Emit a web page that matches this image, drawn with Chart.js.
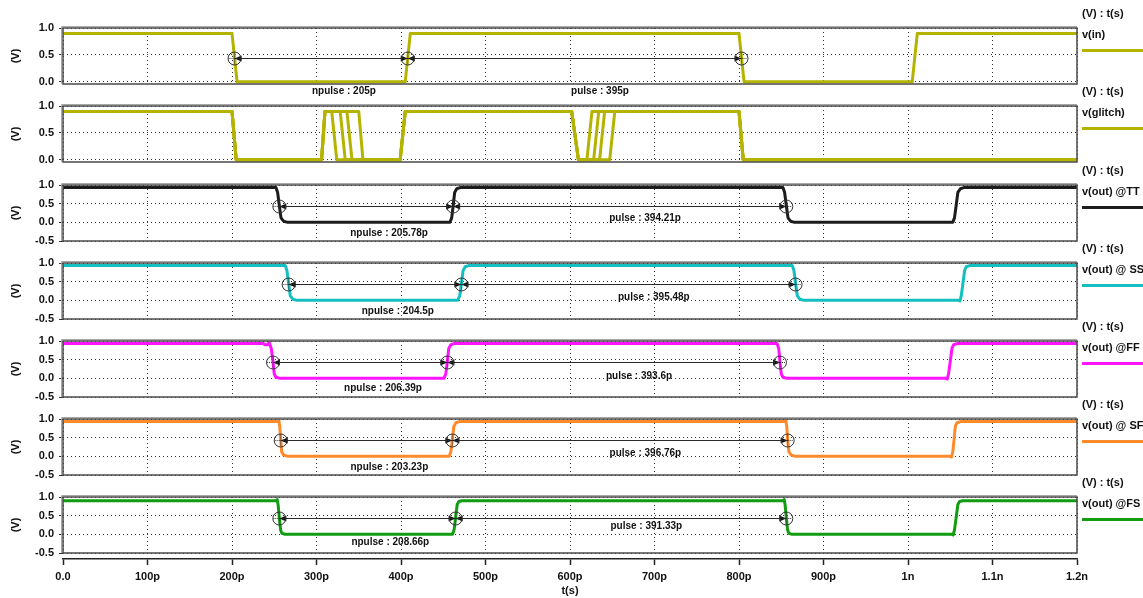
<!DOCTYPE html>
<html>
<head>
<meta charset="utf-8">
<script src="https://cdn.jsdelivr.net/npm/chart.js@4.4.1/dist/chart.umd.min.js"></script>
<style>
  html, body { margin: 0; padding: 0; background: #fff; overflow: hidden; }
  #wrap { position: relative; width: 1143px; height: 598px; }
  #wrap canvas { position: absolute; left: 0; }
  .lg { position: absolute; left: 1082px; font: bold 11px "Liberation Sans", Arial, sans-serif; color: #111; line-height: 13px; white-space: nowrap; }
  .sw { position: absolute; left: 1082px; width: 61px; height: 3px; }
</style>
</head>
<body>
<div id="wrap"></div>
<script>
// ---- time axis (ps) ----
const timeTicks = [0, 100, 200, 300, 400, 500, 600, 700, 800, 900, 1000, 1100, 1200];
const timeTickLabels = ['0.0', '100p', '200p', '300p', '400p', '500p', '600p', '700p', '800p', '900p', '1n', '1.1n', '1.2n'];

// ---- voltage ticks ----
const voltTicksIn = [0, 0.5, 1.0];
const voltTicksOut = [-0.5, 0, 0.5, 1.0];

// ---- v(in) ----
const vinT = [0, 200, 206, 405, 411, 800, 806, 1005, 1011, 1200];
const vinV = [0.9, 0.9, 0, 0, 0.9, 0.9, 0, 0, 0.9, 0.9];

// ---- v(glitch), four sweep traces ----
const glitch1T = [0, 200, 205, 306, 310, 318, 324, 399, 405, 602, 610, 620, 626, 800, 805, 1200];
const glitch1V = [0.9, 0.9, 0, 0, 0.9, 0.9, 0, 0, 0.9, 0.9, 0, 0, 0.9, 0.9, 0, 0];
const glitch2T = [0, 200, 205, 306, 310, 328, 334, 399, 405, 602, 610, 628, 634, 800, 805, 1200];
const glitch2V = [0.9, 0.9, 0, 0, 0.9, 0.9, 0, 0, 0.9, 0.9, 0, 0, 0.9, 0.9, 0, 0];
const glitch3T = [0, 200, 205, 306, 310, 336, 342, 399, 405, 602, 610, 635, 641, 800, 805, 1200];
const glitch3V = [0.9, 0.9, 0, 0, 0.9, 0.9, 0, 0, 0.9, 0.9, 0, 0, 0.9, 0.9, 0, 0];
const glitch4T = [0, 200, 205, 306, 310, 350, 355, 399, 405, 602, 610, 647, 653, 800, 805, 1200];
const glitch4V = [0.9, 0.9, 0, 0, 0.9, 0.9, 0, 0, 0.9, 0.9, 0, 0, 0.9, 0.9, 0, 0];

// ---- v(out) per corner ----
const ttT = [0, 252, 254, 256, 258, 261, 266, 458, 460, 461.78, 463.5, 466, 470, 852, 854, 855.99, 858, 861, 866, 1053, 1055, 1057, 1059, 1062, 1066, 1200];
const ttV = [0.93, 0.93, 0.8, 0.45, 0.12, 0.03, 0, 0, 0.12, 0.45, 0.8, 0.9, 0.93, 0.93, 0.8, 0.45, 0.12, 0.03, 0, 0, 0.12, 0.45, 0.8, 0.9, 0.93, 0.93];

const ssT = [0, 263, 265, 267, 269, 272, 277, 467, 469.5, 471.5, 473.5, 476, 480, 863, 865, 866.98, 869, 872, 877, 1060, 1061.5, 1063, 1065, 1067, 1069, 1073, 1200];
const ssV = [0.93, 0.93, 0.8, 0.45, 0.12, 0.03, 0, 0, 0.12, 0.45, 0.8, 0.9, 0.93, 0.93, 0.8, 0.45, 0.12, 0.03, 0, 0, -0.02, 0.12, 0.45, 0.8, 0.9, 0.93, 0.93];

const ffT = [0, 237, 239, 242, 244, 246.5, 248.5, 250, 252, 257, 451, 453, 454.89, 456.5, 459, 463, 845, 847, 848.49, 850, 852, 857, 1045, 1046.5, 1048, 1050, 1052, 1054, 1058, 1200];
const ffV = [0.93, 0.93, 0.9, 0.9, 0.96, 0.8, 0.45, 0.12, 0.03, 0, 0, 0.12, 0.45, 0.8, 0.9, 0.93, 0.93, 0.8, 0.45, 0.12, 0.03, 0, 0, -0.02, 0.12, 0.45, 0.8, 0.9, 0.93, 0.93];

const sfT = [0, 254, 255.5, 256.5, 257.6, 258.8, 261, 266, 457, 459, 460.83, 462.5, 465, 469, 854, 855.5, 856.5, 857.59, 859, 862, 867, 1050, 1051.5, 1053, 1054.5, 1056, 1058, 1062, 1200];
const sfV = [0.93, 0.93, 0.95, 0.8, 0.45, 0.12, 0.04, 0, 0, 0.12, 0.45, 0.8, 0.9, 0.93, 0.93, 0.95, 0.8, 0.45, 0.12, 0.03, 0, 0, -0.02, 0.12, 0.45, 0.8, 0.9, 0.93, 0.93];

const fsT = [0, 252, 253.5, 254.5, 256, 257.5, 259, 263, 461, 462.8, 464.66, 466.5, 468.5, 472, 852, 853.5, 854.5, 855.99, 857.5, 859, 863, 1052, 1053.5, 1055, 1057, 1059, 1061, 1065, 1200];
const fsV = [0.9, 0.9, 0.93, 0.8, 0.45, 0.12, 0.03, 0, 0, 0.12, 0.45, 0.8, 0.88, 0.9, 0.9, 0.93, 0.8, 0.45, 0.12, 0.03, 0, 0, -0.02, 0.12, 0.45, 0.8, 0.88, 0.9, 0.9];

// ---- signal names ----
const signalNames = ['v(in)', 'v(glitch)', 'v(out) @TT', 'v(out) @ SS', 'v(out) @FF', 'v(out) @ SF', 'v(out) @FS'];

// ---- pulse measurements (ps): first 50% crossing, low width, high width ----
const firstEdge = [203, null, 256, 267, 248.5, 257.6, 256];
const npulseWidth = [205, null, 205.78, 204.5, 206.39, 203.23, 208.66];
const pulseWidth = [395, null, 394.21, 395.48, 393.6, 396.76, 391.33];
const measureLevel = 0.45;

// ---- styling / layout ----
const FONT = '"Liberation Sans", Arial, Helvetica, sans-serif';
const OLIVE = '#b4b400';
const traceColors = [OLIVE, OLIVE, '#1c1c1c', '#14bfc2', '#ff14ff', '#ff8a2c', '#129c12'];
const panelTops = [28, 106, 185, 263, 341, 419, 497];
const labelLevelN = [-0.17, null, -0.29, -0.3, -0.27, -0.29, -0.21];
const labelLevelP = [-0.17, null, 0.11, 0.09, 0.06, 0.08, 0.21];
const PANEL_H = 56, PAD_T = 12, PAD_B = 14, PLOT_L = 63, PLOT_R = 1077, W = 1143;

const wrap = document.getElementById('wrap');

const panelTraces = [
  [[vinT, vinV]],
  [[glitch1T, glitch1V], [glitch2T, glitch2V], [glitch3T, glitch3V], [glitch4T, glitch4V]],
  [[ttT, ttV]],
  [[ssT, ssV]],
  [[ffT, ffV]],
  [[sfT, sfV]],
  [[fsT, fsV]]
];

// box around each plot area
const framePlugin = {
  id: 'frame',
  afterDatasetsDraw(chart) {
    const { ctx, chartArea: a } = chart;
    ctx.save();
    ctx.strokeStyle = '#a8a8a8';
    ctx.lineWidth = 1;
    ctx.beginPath();
    ctx.moveTo(a.left - 1.5, a.bottom);
    ctx.lineTo(a.left - 1.5, a.top - 1.5);
    ctx.lineTo(a.right, a.top - 1.5);
    ctx.stroke();
    ctx.strokeStyle = '#4a4a4a';
    ctx.lineWidth = 1.5;
    ctx.strokeRect(a.left, a.top, a.right - a.left, a.bottom - a.top);
    ctx.restore();
  }
};

function drawArrow(ctx, x, y, dir) {
  ctx.beginPath();
  ctx.moveTo(x, y);
  ctx.lineTo(x - dir * 7, y - 3);
  ctx.lineTo(x - dir * 7, y + 3);
  ctx.closePath();
  ctx.fill();
}

// npulse / pulse cursors drawn on the trace
function measurePlugin(i) {
  return {
    id: 'measure' + i,
    afterDatasetsDraw(chart) {
      if (firstEdge[i] == null) return;
      const { ctx } = chart;
      const xs = chart.scales.x, ys = chart.scales.y;
      const c1 = firstEdge[i];
      const c2 = c1 + npulseWidth[i];
      const c3 = c2 + pulseWidth[i];
      const px = [c1, c2, c3].map(v => xs.getPixelForValue(v));
      const py = Math.round(ys.getPixelForValue(measureLevel)) + 0.5;
      ctx.save();
      ctx.strokeStyle = '#2a2a2a';
      ctx.fillStyle = '#111';
      ctx.lineWidth = 1;
      ctx.beginPath();
      ctx.moveTo(px[0], py);
      ctx.lineTo(px[2], py);
      ctx.stroke();
      drawArrow(ctx, px[0], py, -1);
      drawArrow(ctx, px[1], py, 1);
      drawArrow(ctx, px[1], py, -1);
      drawArrow(ctx, px[2], py, 1);
      px.forEach(x => {
        ctx.setLineDash([]);
        ctx.strokeStyle = '#333';
        ctx.beginPath();
        ctx.arc(x, py, 6.5, 0, Math.PI * 2);
        ctx.stroke();
        ctx.setLineDash([1, 1]);
        ctx.beginPath();
        ctx.moveTo(x, py - 6);
        ctx.lineTo(x, py + 6);
        ctx.moveTo(x - 6, py);
        ctx.lineTo(x + 6, py);
        ctx.stroke();
      });
      ctx.setLineDash([]);
      ctx.font = 'bold 10px ' + FONT;
      ctx.fillStyle = '#111';
      ctx.textAlign = 'center';
      ctx.textBaseline = 'middle';
      ctx.fillText('npulse : ' + npulseWidth[i] + 'p', xs.getPixelForValue((c1 + c2) / 2 + 27), ys.getPixelForValue(labelLevelN[i]));
      ctx.fillText('pulse : ' + pulseWidth[i] + 'p', xs.getPixelForValue((c2 + c3) / 2 + 30), ys.getPixelForValue(labelLevelP[i]));
      ctx.restore();
    }
  };
}

function makePanel(i) {
  const canvas = document.createElement('canvas');
  canvas.width = W;
  canvas.height = PAD_T + PANEL_H + PAD_B;
  canvas.style.top = (panelTops[i] - PAD_T) + 'px';
  wrap.appendChild(canvas);
  const yTicks = i < 2 ? voltTicksIn : voltTicksOut;
  const yMin = i < 2 ? -0.04 : -0.5;
  new Chart(canvas, {
    type: 'line',
    data: {
      datasets: panelTraces[i].map(([t, v]) => ({
        label: signalNames[i],
        data: t.map((x, k) => ({ x: x, y: v[k] })),
        borderColor: traceColors[i],
        borderWidth: 3,
        borderJoinStyle: 'round',
        pointRadius: 0,
        tension: 0,
        fill: false
      }))
    },
    options: {
      responsive: false,
      animation: false,
      devicePixelRatio: 1,
      events: [],
      layout: { padding: { left: 0, right: W - PLOT_R, top: PAD_T, bottom: PAD_B } },
      plugins: { legend: { display: false }, tooltip: { enabled: false } },
      scales: {
        x: {
          type: 'linear', min: 0, max: 1200,
          afterBuildTicks: s => { s.ticks = timeTicks.map(v => ({ value: v })); },
          afterFit: s => { s.height = 0; },
          ticks: { display: false },
          grid: { color: '#333', lineWidth: 1, drawTicks: false, borderDash: [1, 3] },
          border: { display: false, dash: [1, 3] }
        },
        y: {
          type: 'linear', min: yMin, max: 1.0,
          afterBuildTicks: s => { s.ticks = yTicks.map(v => ({ value: v })); },
          afterFit: s => { s.width = PLOT_L; },
          ticks: {
            font: { family: FONT, size: 11, weight: 'bold' },
            color: '#111',
            padding: 5,
            callback: v => Number(v).toFixed(1)
          },
          grid: { color: '#333', lineWidth: 1, tickLength: 4, tickColor: '#333', tickWidth: 1, borderDash: [1, 3] },
          border: { display: false, dash: [1, 3] },
          title: {
            display: true, text: '(V)',
            font: { family: FONT, size: 11, weight: 'bold' },
            color: '#111',
            padding: { top: 9, bottom: 0 }
          }
        }
      }
    },
    plugins: [framePlugin, measurePlugin(i)]
  });

  // side legend
  const T = panelTops[i];
  const head = document.createElement('div');
  head.className = 'lg';
  head.style.top = (T - 21) + 'px';
  head.textContent = '(V) : t(s)';
  wrap.appendChild(head);
  const name = document.createElement('div');
  name.className = 'lg';
  name.style.top = (T) + 'px';
  name.textContent = signalNames[i];
  wrap.appendChild(name);
  const sw = document.createElement('div');
  sw.className = 'sw';
  sw.style.top = (T + 20.5) + 'px';
  sw.style.background = traceColors[i];
  wrap.appendChild(sw);
}

for (let i = 0; i < panelTops.length; i++) makePanel(i);

// shared time axis under the last panel
(function makeTimeAxis() {
  const canvas = document.createElement('canvas');
  canvas.width = W;
  canvas.height = 58;
  canvas.style.top = '540px';
  wrap.appendChild(canvas);
  new Chart(canvas, {
    type: 'line',
    data: { datasets: [] },
    options: {
      responsive: false,
      animation: false,
      devicePixelRatio: 1,
      events: [],
      layout: { padding: { left: PLOT_L, right: W - PLOT_R, top: 14, bottom: 0 } },
      plugins: { legend: { display: false }, tooltip: { enabled: false } },
      scales: {
        x: {
          type: 'linear', min: 0, max: 1200, position: 'bottom',
          afterBuildTicks: s => { s.ticks = timeTicks.map(v => ({ value: v })); },
          afterFit: s => { s.height = 39; },
          ticks: {
            font: { family: FONT, size: 11, weight: 'bold' },
            color: '#111',
            padding: 5,
            maxRotation: 0,
            autoSkip: false,
            callback: (v, idx) => timeTickLabels[idx]
          },
          grid: { drawOnChartArea: false, drawTicks: true, tickLength: 6, tickColor: '#222', tickWidth: 1.5 },
          border: { display: true, color: '#222', width: 1.5 },
          title: {
            display: true, text: 't(s)',
            font: { family: FONT, size: 11, weight: 'bold' },
            color: '#111',
            padding: 0
          }
        },
        y: { display: false, min: 0, max: 1 }
      }
    }
  });
})();
</script>
</body>
</html>
